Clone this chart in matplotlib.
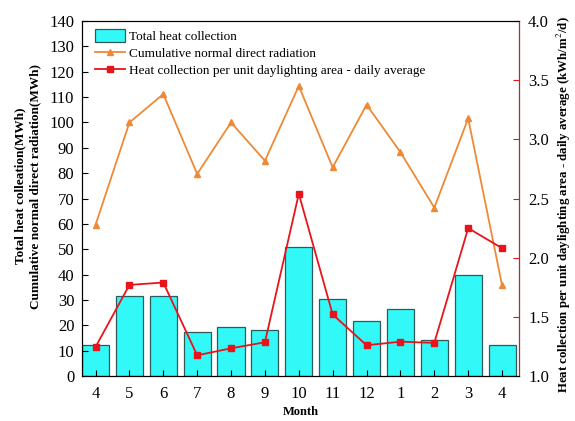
import numpy as np
import matplotlib.pyplot as plt

plt.rcParams['font.family'] = ['Liberation Serif', 'DejaVu Serif']
plt.rcParams['mathtext.fontset'] = 'stix'

months = ['4', '5', '6', '7', '8', '9', '10', '11', '12', '1', '2', '3', '4']
total_heat = [12.1, 31.4, 31.7, 17.4, 19.2, 18.1, 50.9, 30.5, 21.6, 26.3, 14.2, 39.9, 12.4]
normal_radiation = [59.6, 100.0, 111.2, 79.7, 100.0, 84.9, 114.4, 82.3, 107.0, 88.3, 66.4, 101.6, 35.8]
heat_per_area = [1.245, 1.77, 1.79, 1.175, 1.234, 1.285, 2.54, 1.52, 1.26, 1.29, 1.28, 2.25, 2.08]

x = np.arange(len(months))

fig = plt.figure(figsize=(5.75, 4.21), dpi=100)
ax = fig.add_axes([0.1426, 0.1069, 0.76, 0.843])

b = ax.bar(x, total_heat, width=0.8, color='#33F8F8', edgecolor='#2F5A5A', linewidth=0.9,
           label='Total heat collection')
l1, = ax.plot(x, normal_radiation, color='#EE8A36', marker='^', markersize=5, linewidth=1.3,
              label='Cumulative normal direct radiation')
ax.set_xlim(-0.4, 12.5)
ax.set_ylim(0, 140)
ax.set_yticks(np.arange(0, 141, 10))
ax.set_xticks(x)
ax.set_xticklabels(months)
ax.tick_params(direction='in', labelsize=12, length=4)
ax.tick_params(axis='x', pad=7)
ax.tick_params(axis='y', pad=5.5)
ax.set_xlabel('Month', fontsize=9, fontweight='bold', labelpad=3)
ax.set_ylabel('Total heat colleation(MWh)\nCumulative normal direct radiation(MWh)',
              fontsize=9.5, fontweight='bold', linespacing=1.25, labelpad=6, y=0.535)

ax2 = ax.twinx()
l2, = ax2.plot(x, heat_per_area, color='#E8141C', marker='s', markersize=4.5, linewidth=1.3,
               label='Heat collection per unit daylighting area - daily average')
ax2.set_ylim(1.0, 4.0)
ax2.set_yticks(np.arange(1.0, 4.01, 0.5))
ax2.tick_params(direction='in', labelsize=12, length=4, pad=6.5, colors='#E8141C', labelcolor='black')
ax2.spines['right'].set_color('#E8141C')
ax2.set_ylabel('Heat collection per unit daylighting area - daily average (kWh/m$^2$/d)',
               fontsize=9.3, fontweight='bold', labelpad=4, y=0.483)

ax.legend([b, l1, l2], [b.get_label(), l1.get_label(), l2.get_label()],
          loc='upper left', bbox_to_anchor=(0.018, 0.992), frameon=False, fontsize=9.5,
          handlelength=2.3, handleheight=1.1, borderaxespad=0.1, borderpad=0.3,
          labelspacing=0.25, handletextpad=0.3)

fig.savefig('out.png', dpi=100)
